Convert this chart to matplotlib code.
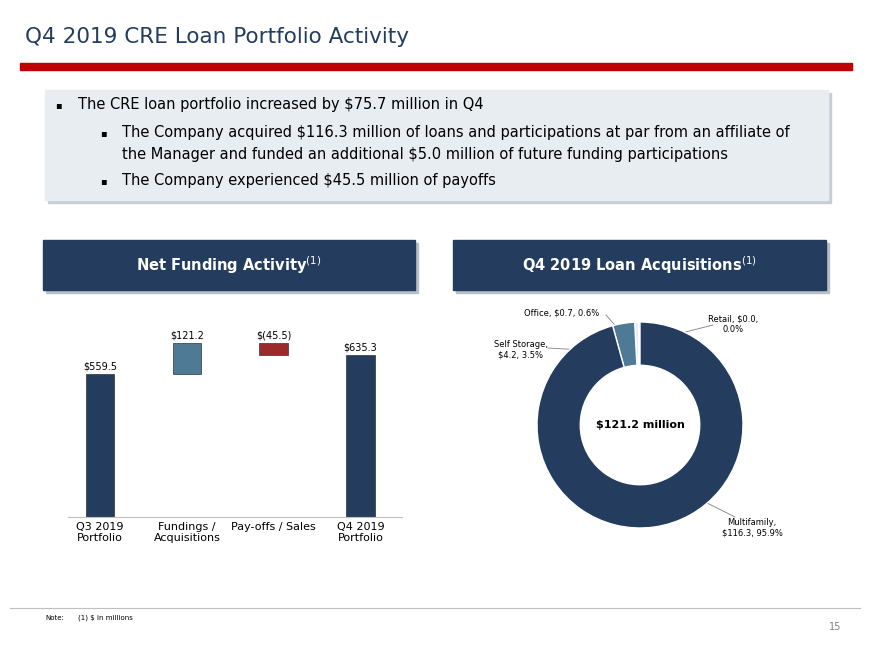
import matplotlib.pyplot as plt
from matplotlib.patches import Rectangle

W, H = 870, 652
navy = "#243d5f"

wf_labels = ["Q3 2019\nPortfolio", "Fundings /\nAcquisitions", "Pay-offs / Sales", "Q4 2019\nPortfolio"]
wf_values = [559.5, 121.2, -45.5, 635.3]
wf_text = ["$559.5", "$121.2", "$(45.5)", "$635.3"]

pie_labels = ["Retail, $0.0,\n0.0%", "Office, $0.7, 0.6%", "Self Storage,\n$4.2, 3.5%", "Multifamily,\n$116.3, 95.9%"]
pie_values = [0.3, 0.7, 4.2, 116.3]
pie_colors = ["#9b2a2a", "#e6ecf1", "#4f7a96", navy]


def ax_px(x0, y0, x1, y1):
    return [x0 / W, 1 - y1 / H, (x1 - x0) / W, (y1 - y0) / H]


fig = plt.figure(figsize=(8.7, 6.52), dpi=100)
bg = fig.add_axes([0, 0, 1, 1])
bg.set_xlim(0, W)
bg.set_ylim(H, 0)
bg.axis("off")

bg.text(25, 37, "Q4 2019 CRE Loan Portfolio Activity", fontsize=15.5, color=navy, va="center")
bg.add_patch(Rectangle((20, 63), 832, 7, color="#c00000"))

bg.add_patch(Rectangle((48, 93), 783, 110, color="#c8ced6"))
bg.add_patch(Rectangle((45, 90), 783, 110, color="#e8edf2"))
bg.text(55, 105, "\u25aa", fontsize=7, va="center")
bg.text(78, 105, "The CRE loan portfolio increased by $75.7 million in Q4", fontsize=10.5, va="center")
bg.text(100, 133, "\u25aa", fontsize=7, va="center")
bg.text(122, 133, "The Company acquired $116.3 million of loans and participations at par from an affiliate of",
        fontsize=10.5, va="center")
bg.text(122, 154, "the Manager and funded an additional $5.0 million of future funding participations",
        fontsize=10.5, va="center")
bg.text(100, 181, "\u25aa", fontsize=7, va="center")
bg.text(122, 181, "The Company experienced $45.5 million of payoffs", fontsize=10.5, va="center")

for x0, x1, title in [(43, 415, "Net Funding Activity$^{(1)}$"), (453, 826, "Q4 2019 Loan Acquisitions$^{(1)}$")]:
    bg.add_patch(Rectangle((x0 + 3, 243), x1 - x0, 50, color="#b8bec6"))
    bg.add_patch(Rectangle((x0, 240), x1 - x0, 50, color=navy))
    bg.text((x0 + x1) / 2, 265, title, fontsize=10.5, color="white", fontweight="bold", ha="center", va="center")

bg.plot([10, 860], [608, 608], color="#bfbfbf", lw=0.8)
bg.text(45, 618, "Note:", fontsize=5, va="center")
bg.text(78, 618, "(1) $ in millions", fontsize=5, va="center")
bg.text(835, 627, "15", fontsize=7, color="#7f7f7f", ha="center", va="center")

# waterfall
ax = fig.add_axes(ax_px(68, 300, 402, 517))
ax.set_xlim(-0.37, 3.48)
ax.set_ylim(0, 849)
bottoms = [0, wf_values[0], wf_values[0] + wf_values[1] + wf_values[2], 0]
heights = [wf_values[0], wf_values[1], -wf_values[2], wf_values[3]]
colors = [navy, "#4f7a96", "#9b2a2a", navy]
ax.bar(range(4), heights, bottom=bottoms, width=0.33, color=colors, edgecolor="#333333", linewidth=0.5)
for i, t in enumerate(wf_text):
    ax.text(i, bottoms[i] + heights[i] + 8, t, fontsize=7, ha="center", va="bottom")
ax.set_xticks(range(4))
ax.set_xticklabels(wf_labels, fontsize=8)
ax.tick_params(length=0)
ax.set_yticks([])
for s in ["top", "left", "right"]:
    ax.spines[s].set_visible(False)
ax.spines["bottom"].set_color("#bfbfbf")

# donut
pax = fig.add_axes(ax_px(537, 322, 743, 528))
pax.pie(pie_values, colors=pie_colors, startangle=90, counterclock=True,
        wedgeprops=dict(width=0.42, edgecolor="white", linewidth=1))
pax.set_xlim(-1, 1)
pax.set_ylim(-1, 1)
pax.text(0, 0, "$121.2 million", fontsize=8, fontweight="bold", ha="center", va="center")

bg.text(733, 324, pie_labels[0], fontsize=6, ha="center", va="center")
bg.plot([713, 642], [325, 343], color="#7f7f7f", lw=0.6)
bg.text(562, 313, pie_labels[1], fontsize=6, ha="center", va="center")
bg.plot([606, 628], [315, 340], color="#7f7f7f", lw=0.6)
bg.text(521, 350, pie_labels[2], fontsize=6, ha="center", va="center")
bg.plot([548, 618], [348, 352], color="#7f7f7f", lw=0.6)
bg.text(752, 528, pie_labels[3], fontsize=6, ha="center", va="center")
bg.plot([735, 705], [517, 502], color="#7f7f7f", lw=0.6)

fig.savefig("out.png", dpi=100)
